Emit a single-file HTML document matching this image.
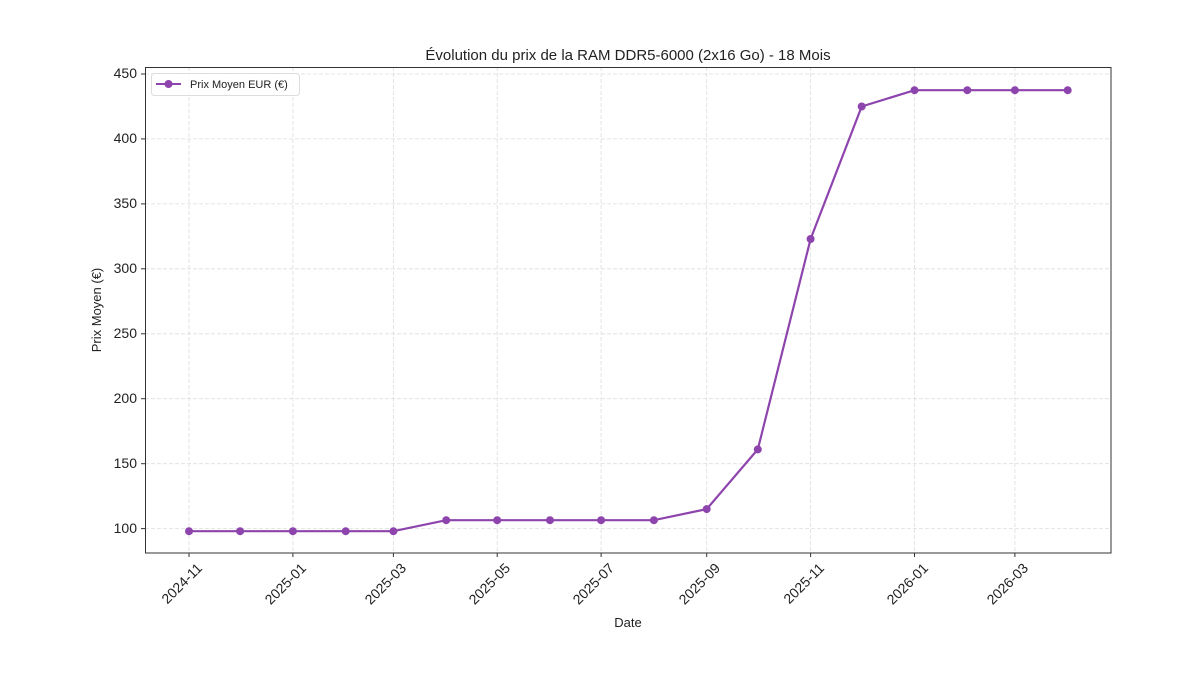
<!DOCTYPE html>
<html><head><meta charset="utf-8"><style>html,body{margin:0;padding:0;background:#fff}svg{display:block}text{font-family:"Liberation Sans",sans-serif;fill:#222}</style></head>
<body>
<svg width="1200" height="675" viewBox="0 0 1200 675">
<rect width="1200" height="675" fill="#fff"/>
<g stroke="#ddd" stroke-width="0.8" stroke-dasharray="4,2">
<line x1="189" y1="67" x2="189" y2="553"/><line x1="292.9" y1="67" x2="292.9" y2="553"/><line x1="393.4" y1="67" x2="393.4" y2="553"/><line x1="497.2" y1="67" x2="497.2" y2="553"/><line x1="601.1" y1="67" x2="601.1" y2="553"/><line x1="706.7" y1="67" x2="706.7" y2="553"/><line x1="810.6" y1="67" x2="810.6" y2="553"/><line x1="914.5" y1="67" x2="914.5" y2="553"/><line x1="1014.9" y1="67" x2="1014.9" y2="553"/>
<line x1="145" y1="528.6" x2="1111" y2="528.6"/><line x1="145" y1="463.7" x2="1111" y2="463.7"/><line x1="145" y1="398.7" x2="1111" y2="398.7"/><line x1="145" y1="333.8" x2="1111" y2="333.8"/><line x1="145" y1="268.8" x2="1111" y2="268.8"/><line x1="145" y1="203.9" x2="1111" y2="203.9"/><line x1="145" y1="138.9" x2="1111" y2="138.9"/><line x1="145" y1="74" x2="1111" y2="74"/>
</g>
<rect x="145.5" y="67.5" width="965.5" height="485.5" fill="none" stroke="#333" stroke-width="1"/>
<g stroke="#333" stroke-width="1">
<line x1="141" y1="528.6" x2="145" y2="528.6"/><line x1="141" y1="463.7" x2="145" y2="463.7"/><line x1="141" y1="398.7" x2="145" y2="398.7"/><line x1="141" y1="333.8" x2="145" y2="333.8"/><line x1="141" y1="268.8" x2="145" y2="268.8"/><line x1="141" y1="203.9" x2="145" y2="203.9"/><line x1="141" y1="138.9" x2="145" y2="138.9"/><line x1="141" y1="74" x2="145" y2="74"/>
<line x1="189" y1="553" x2="189" y2="557"/><line x1="292.9" y1="553" x2="292.9" y2="557"/><line x1="393.4" y1="553" x2="393.4" y2="557"/><line x1="497.2" y1="553" x2="497.2" y2="557"/><line x1="601.1" y1="553" x2="601.1" y2="557"/><line x1="706.7" y1="553" x2="706.7" y2="557"/><line x1="810.6" y1="553" x2="810.6" y2="557"/><line x1="914.5" y1="553" x2="914.5" y2="557"/><line x1="1014.9" y1="553" x2="1014.9" y2="557"/>
</g>
<g font-size="14" text-anchor="end">
<text x="137" y="533">100</text><text x="137" y="468">150</text><text x="137" y="403">200</text><text x="137" y="338">250</text><text x="137" y="273">300</text><text x="137" y="208">350</text><text x="137" y="143">400</text><text x="137" y="78">450</text>
</g>
<g font-size="14" text-anchor="end">
<text transform="translate(203,569) rotate(-45)">2024-11</text>
<text transform="translate(307,569) rotate(-45)">2025-01</text>
<text transform="translate(407,569) rotate(-45)">2025-03</text>
<text transform="translate(511,569) rotate(-45)">2025-05</text>
<text transform="translate(615,569) rotate(-45)">2025-07</text>
<text transform="translate(721,569) rotate(-45)">2025-09</text>
<text transform="translate(825,569) rotate(-45)">2025-11</text>
<text transform="translate(929,569) rotate(-45)">2026-01</text>
<text transform="translate(1029,569) rotate(-45)">2026-03</text>
</g>
<text x="628" y="627" font-size="13" text-anchor="middle">Date</text>
<text transform="translate(101,310) rotate(-90)" font-size="13" text-anchor="middle">Prix Moyen (€)</text>
<text x="628" y="60" font-size="15" text-anchor="middle">Évolution du prix de la RAM DDR5-6000 (2x16 Go) - 18 Mois</text>
<polyline fill="none" stroke="#8e44ad" stroke-width="2.2" points="189,531.2 240.1,531.2 292.9,531.2 345.7,531.2 393.4,531.2 446.2,520.2 497.2,520.2 550,520.2 601.1,520.2 653.9,520.2 706.7,509.1 757.8,449.4 810.6,239 861.7,106.5 914.5,90.2 967.3,90.2 1014.9,90.2 1067.7,90.2"/>
<g fill="#8e44ad">
<circle cx="189" cy="531.2" r="4"/><circle cx="240.1" cy="531.2" r="4"/><circle cx="292.9" cy="531.2" r="4"/><circle cx="345.7" cy="531.2" r="4"/><circle cx="393.4" cy="531.2" r="4"/><circle cx="446.2" cy="520.2" r="4"/><circle cx="497.2" cy="520.2" r="4"/><circle cx="550" cy="520.2" r="4"/><circle cx="601.1" cy="520.2" r="4"/><circle cx="653.9" cy="520.2" r="4"/><circle cx="706.7" cy="509.1" r="4"/><circle cx="757.8" cy="449.4" r="4"/><circle cx="810.6" cy="239" r="4"/><circle cx="861.7" cy="106.5" r="4"/><circle cx="914.5" cy="90.2" r="4"/><circle cx="967.3" cy="90.2" r="4"/><circle cx="1014.9" cy="90.2" r="4"/><circle cx="1067.7" cy="90.2" r="4"/>
</g>
<rect x="151.5" y="73.5" width="148" height="22" rx="3" fill="#fff" fill-opacity="0.8" stroke="#ddd"/>
<line x1="156" y1="84" x2="181" y2="84" stroke="#8e44ad" stroke-width="2"/>
<circle cx="168.5" cy="84" r="4" fill="#8e44ad"/>
<text x="190" y="88" font-size="11">Prix Moyen EUR (€)</text>
</svg>
</body></html>
